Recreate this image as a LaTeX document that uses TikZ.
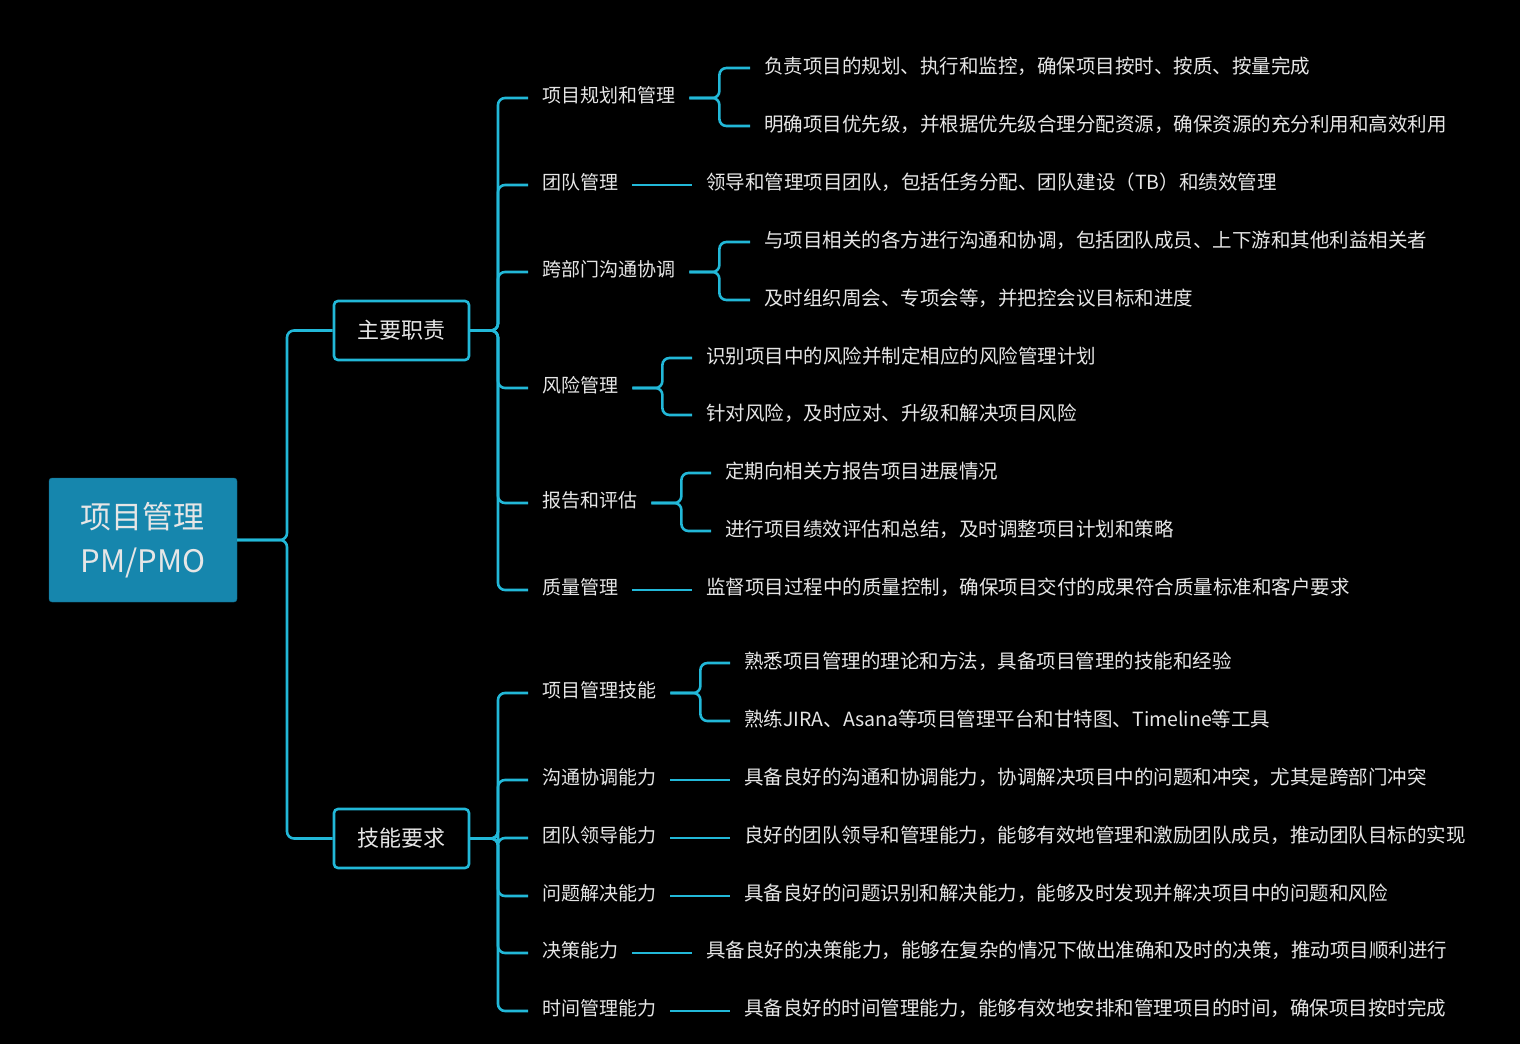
\documentclass[tikz,border=0pt]{standalone}
\usepackage{fontspec}
\setmainfont{Noto Sans CJK SC}
\definecolor{ln}{HTML}{22B8D8}
\definecolor{rootc}{HTML}{1686AD}
\definecolor{txt}{HTML}{E6E6E6}
\begin{document}
\begin{tikzpicture}[x=1pt,y=-1pt,
  conn/.style={draw=ln,line width=2.6pt,rounded corners=7pt},
  tx/.style={anchor=west,inner sep=0pt,text=txt,font=\fontsize{19}{22}\selectfont},
  lf/.style={anchor=west,inner sep=0pt,text=txt,font=\fontsize{19.5}{22}\selectfont},
  l1/.style={draw=ln,line width=2.6pt,fill=black,rounded corners=4pt,minimum width=135pt,minimum height=59pt,text=txt,font=\fontsize{22}{26}\selectfont}]
\fill[black] (0,0) rectangle (1520,1044);
\useasboundingbox (0,0) rectangle (1520,1044);
\node[fill=rootc,draw=rootc!80!black,rounded corners=3pt,minimum width=188pt,minimum height=124pt,text=txt,font=\fontsize{31}{44}\selectfont,align=left] (root) at (143,540) {项目管理\\PM/PMO};
\node[l1] (a) at (401.5,330.5) {主要职责};
\node[l1] (b) at (401.5,838.5) {技能要求};
\draw[conn] (root.east) -- (287,540) |- (a.west);
\draw[conn] (root.east) -- (287,540) |- (b.west);
% level 2
\foreach \n/\y/\t in {a1/95/项目规划和管理,a2/182/团队管理,a3/269/跨部门沟通协调,a4/385/风险管理,a5/500/报告和评估,a6/587/质量管理}{
  \node[tx] (\n) at (542,\y) {\t};
  \draw[conn] (a.east) -- (498,330.5) |- ([xshift=-14pt,yshift=-3pt]\n.west);
}
\foreach \n/\y/\t in {b1/690/项目管理技能,b2/777/沟通协调能力,b3/835/团队领导能力,b4/893/问题解决能力,b5/950/决策能力,b6/1008/时间管理能力}{
  \node[tx] (\n) at (542,\y) {\t};
  \draw[conn] (b.east) -- (498,838.5) |- ([xshift=-14pt,yshift=-3pt]\n.west);
}
% leaves
\newcommand\brk[6]{% parent, x leaf, y1, y2, text1, text2
  \node[lf] (#1x) at (#2,#3) {#5};
  \node[lf] (#1y) at (#2,#4) {#6};
  \draw[conn] ([xshift=14pt,yshift=-3pt]#1.east) -- ++(30,0) |- ([xshift=-14pt,yshift=-2pt]#1x.west);
  \draw[conn] ([xshift=14pt,yshift=-3pt]#1.east) -- ++(30,0) |- ([xshift=-14pt,yshift=-2pt]#1y.west);}
\newcommand\one[4]{% parent, x, y, text
  \node[lf] (#1x) at (#2,#3) {#4};
  \draw[conn] ([xshift=14pt,yshift=-3pt]#1.east) -- ([xshift=-14pt,yshift=-3pt]#1x.west);}
\brk{a1}{764}{66}{124}{负责项目的规划、执行和监控，确保项目按时、按质、按量完成}{明确项目优先级，并根据优先级合理分配资源，确保资源的充分利用和高效利用}
\one{a2}{706}{182}{领导和管理项目团队，包括任务分配、团队建设（TB）和绩效管理}
\brk{a3}{764}{240}{298}{与项目相关的各方进行沟通和协调，包括团队成员、上下游和其他利益相关者}{及时组织周会、专项会等，并把控会议目标和进度}
\brk{a4}{706}{356}{413}{识别项目中的风险并制定相应的风险管理计划}{针对风险，及时应对、升级和解决项目风险}
\brk{a5}{725}{471}{529}{定期向相关方报告项目进展情况}{进行项目绩效评估和总结，及时调整项目计划和策略}
\one{a6}{706}{587}{监督项目过程中的质量控制，确保项目交付的成果符合质量标准和客户要求}
\brk{b1}{744}{661}{719}{熟悉项目管理的理论和方法，具备项目管理的技能和经验}{熟练JIRA、Asana等项目管理平台和甘特图、Timeline等工具}
\one{b2}{744}{777}{具备良好的沟通和协调能力，协调解决项目中的问题和冲突，尤其是跨部门冲突}
\one{b3}{744}{835}{良好的团队领导和管理能力，能够有效地管理和激励团队成员，推动团队目标的实现}
\one{b4}{744}{893}{具备良好的问题识别和解决能力，能够及时发现并解决项目中的问题和风险}
\one{b5}{706}{950}{具备良好的决策能力，能够在复杂的情况下做出准确和及时的决策，推动项目顺利进行}
\one{b6}{744}{1008}{具备良好的时间管理能力，能够有效地安排和管理项目的时间，确保项目按时完成}
\end{tikzpicture}
\end{document}
